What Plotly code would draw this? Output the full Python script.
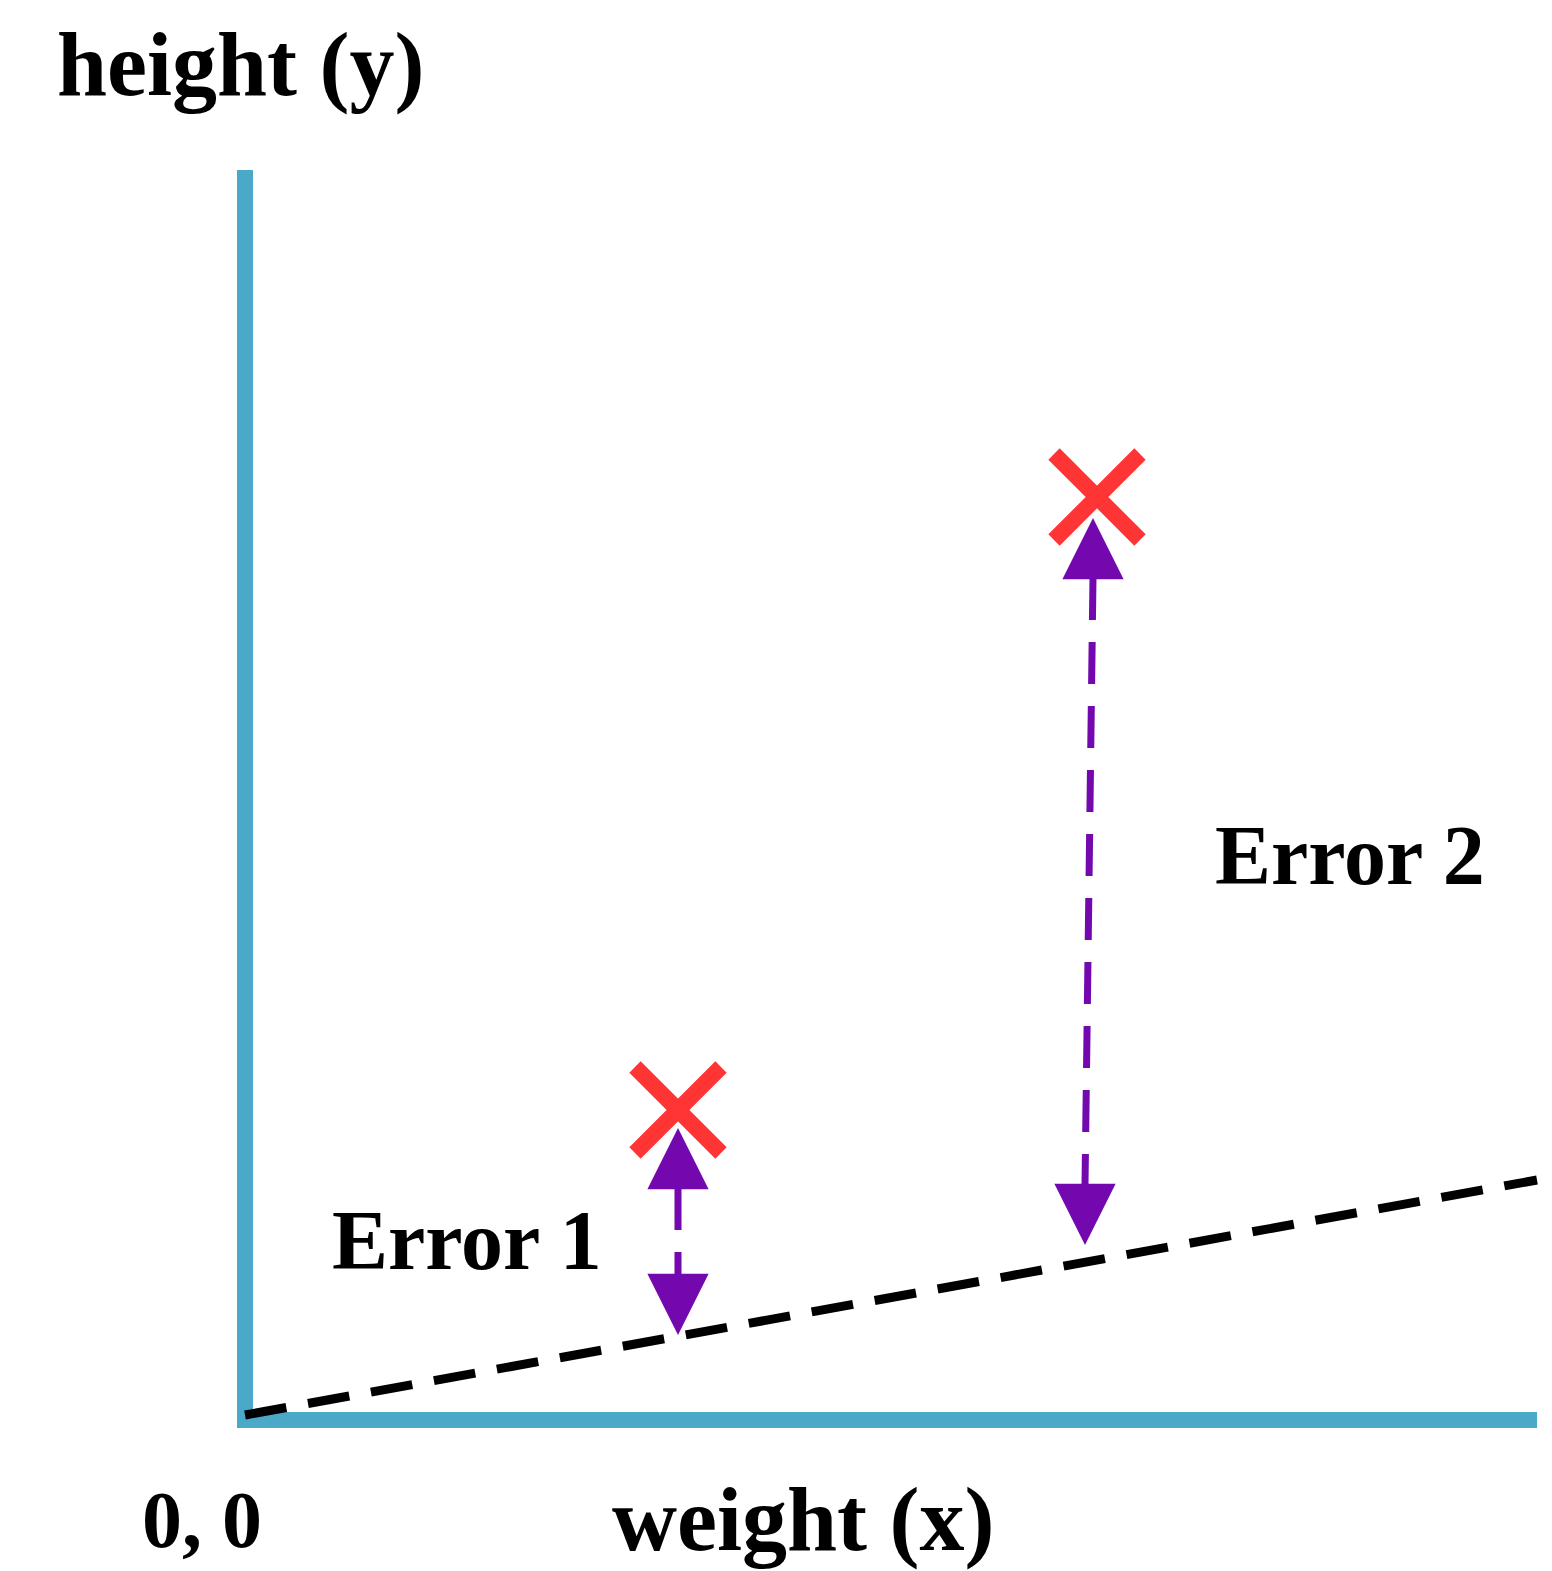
import plotly.graph_objects as go

# ---- data (diagram units; origin at the corner of the axes) ----
axis_x = [0.0, 0.0, 12.92]
axis_y = [12.5, 0.0, 0.0]

fit_x = [0.0, 12.92]
fit_y = [0.05, 2.40]

points_x = [4.33, 8.52]
points_y = [3.10, 9.23]

# error arrows: x position, top tip (near point), bottom tip (near fitted line)
err_x_top = [4.33, 8.48]
err_x_bot = [4.33, 8.40]
err_top = [2.92, 9.02]
err_bot = [0.85, 1.75]

labels = ["Error 1", "Error 2"]
label_x = [0.85, 9.68]
label_y = [1.80, 5.65]

BLUE = "#4AA8C8"
RED = "#FF3434"
PURPLE = "#7308AE"
FONT = "Liberation Serif"

fig = go.Figure()

# axes (L shape)
fig.add_trace(go.Scatter(x=axis_x, y=axis_y, mode="lines",
                         line=dict(color=BLUE, width=16), hoverinfo="skip"))

# fitted dashed line
fig.add_trace(go.Scatter(x=fit_x, y=fit_y, mode="lines",
                         line=dict(color="black", width=9, dash="42px,22px"),
                         hoverinfo="skip"))

# dashed error shafts
head_len = 0.6
for i in range(2):
    fig.add_trace(go.Scatter(
        x=[err_x_top[i], err_x_bot[i]],
        y=[err_top[i] - head_len, err_bot[i] + head_len],
        mode="lines",
        line=dict(color=PURPLE, width=7, dash="42px,22px"),
        hoverinfo="skip"))

# data points (red X)
fig.add_trace(go.Scatter(x=points_x, y=points_y, mode="markers",
                         marker=dict(symbol="x-thin", size=86,
                                     line=dict(color=RED, width=16)),
                         hoverinfo="skip"))

annotations = []
# arrowheads
for i in range(2):
    annotations.append(dict(
        x=err_x_top[i], y=err_top[i], ax=err_x_top[i], ay=err_top[i] - head_len,
        xref="x", yref="y", axref="x", ayref="y", text="", showarrow=True,
        arrowhead=2, arrowsize=1.75, arrowwidth=7, arrowcolor=PURPLE))
    annotations.append(dict(
        x=err_x_bot[i], y=err_bot[i], ax=err_x_bot[i], ay=err_bot[i] + head_len,
        xref="x", yref="y", axref="x", ayref="y", text="", showarrow=True,
        arrowhead=2, arrowsize=1.75, arrowwidth=7, arrowcolor=PURPLE))

# error labels
for t, lx, ly in zip(labels, label_x, label_y):
    annotations.append(dict(x=lx, y=ly, xref="x", yref="y", text=t,
                            showarrow=False, xanchor="left", yanchor="middle",
                            font=dict(family=FONT, size=84, color="black", weight="bold")))

# axis titles and origin label
annotations.append(dict(x=-1.90, y=13.55, xref="x", yref="y", text="height (y)",
                        showarrow=False, xanchor="left", yanchor="middle",
                        font=dict(family=FONT, size=90, color="black", weight="bold")))
annotations.append(dict(x=3.65, y=-1.00, xref="x", yref="y", text="weight (x)",
                        showarrow=False, xanchor="left", yanchor="middle",
                        font=dict(family=FONT, size=90, color="black", weight="bold")))
annotations.append(dict(x=-1.05, y=-1.00, xref="x", yref="y", text="0, 0",
                        showarrow=False, xanchor="left", yanchor="middle",
                        font=dict(family=FONT, size=80, color="black", weight="bold")))

fig.update_layout(
    width=1552, height=1571, autosize=False,
    margin=dict(l=0, r=0, t=0, b=0),
    paper_bgcolor="white", plot_bgcolor="white",
    showlegend=False,
    xaxis=dict(range=[-2.37, 13.15], visible=False, domain=[0, 1]),
    yaxis=dict(range=[-1.59, 14.12], visible=False, domain=[0, 1]),
    annotations=annotations,
)

fig.write_html("out.html", config={"displayModeBar": False})
